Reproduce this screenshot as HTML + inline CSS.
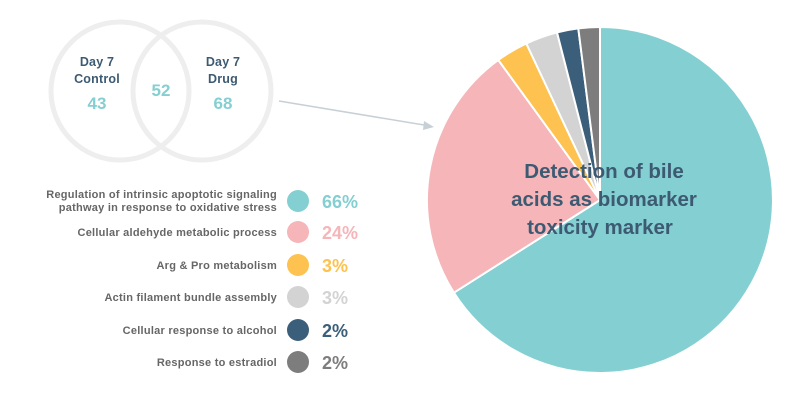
<!DOCTYPE html>
<html><head><style>
body{margin:0;background:#fff;}
svg{display:block;}
text{font-family:"Liberation Sans",sans-serif;font-weight:bold;}
</style></head><body>
<svg width="800" height="400" viewBox="0 0 800 400">
<circle cx="120" cy="91" r="69" fill="none" stroke="#eeeeee" stroke-width="5"/>
<circle cx="202" cy="91" r="69" fill="none" stroke="#eeeeee" stroke-width="5"/>
<g fill="#3d5a73" font-size="12.5" text-anchor="middle" letter-spacing="0.2">
<text x="97" y="66">Day 7</text><text x="97" y="83">Control</text>
<text x="223" y="66">Day 7</text><text x="223" y="83">Drug</text>
</g>
<g fill="#84cfd1" font-size="17" text-anchor="middle">
<text x="97" y="109">43</text><text x="161" y="96">52</text><text x="223" y="109">68</text>
</g>
<line x1="279" y1="101" x2="430" y2="126" stroke="#c7d0d6" stroke-width="1.5"/>
<polygon points="434,127 424,121 423,130" fill="#c7d0d6"/>
<g stroke="#fff" stroke-width="2" stroke-linejoin="round">
<path d="M600,200 L600,27 A173,173 0 1 1 453.9,292.7 Z" fill="#84cfd1"/>
<path d="M600,200 L453.9,292.7 A173,173 0 0 1 498.3,60 Z" fill="#f5b5b9"/>
<path d="M600,200 L498.3,60 A173,173 0 0 1 526.3,43.5 Z" fill="#fdc24f"/>
<path d="M600,200 L526.3,43.5 A173,173 0 0 1 557,32.4 Z" fill="#d3d3d3"/>
<path d="M600,200 L557,32.4 A173,173 0 0 1 578.3,28.4 Z" fill="#3b5f7a"/>
<path d="M600,200 L578.3,28.4 A173,173 0 0 1 600,27 Z" fill="#7d7d7d"/>
</g>
<g fill="#3d5a73" font-size="20.5" text-anchor="middle">
<text x="604" y="178">Detection of bile</text>
<text x="604" y="206">acids as biomarker</text>
<text x="600" y="234">toxicity marker</text>
</g>
<g fill="#666" font-size="11" text-anchor="end" letter-spacing="0.25">
<text x="277" y="198">Regulation of intrinsic apoptotic signaling</text>
<text x="277" y="211">pathway in response to oxidative stress</text>
<text x="277" y="236">Cellular aldehyde metabolic process</text>
<text x="277" y="269">Arg &amp; Pro metabolism</text>
<text x="277" y="301">Actin filament bundle assembly</text>
<text x="277" y="334">Cellular response to alcohol</text>
<text x="277" y="366">Response to estradiol</text>
</g>
<circle cx="298" cy="201" r="11" fill="#84cfd1"/>
<circle cx="298" cy="232" r="11" fill="#f5b5b9"/>
<circle cx="298" cy="265" r="11" fill="#fdc24f"/>
<circle cx="298" cy="297" r="11" fill="#d3d3d3"/>
<circle cx="298" cy="330" r="11" fill="#3b5f7a"/>
<circle cx="298" cy="362" r="11" fill="#7d7d7d"/>
<g font-size="18">
<text x="322" y="208" fill="#84cfd1">66%</text>
<text x="322" y="239" fill="#f5b5b9">24%</text>
<text x="322" y="272" fill="#fdc24f">3%</text>
<text x="322" y="304" fill="#d3d3d3">3%</text>
<text x="322" y="337" fill="#3b5f7a">2%</text>
<text x="322" y="369" fill="#7d7d7d">2%</text>
</g>
</svg>
</body></html>
